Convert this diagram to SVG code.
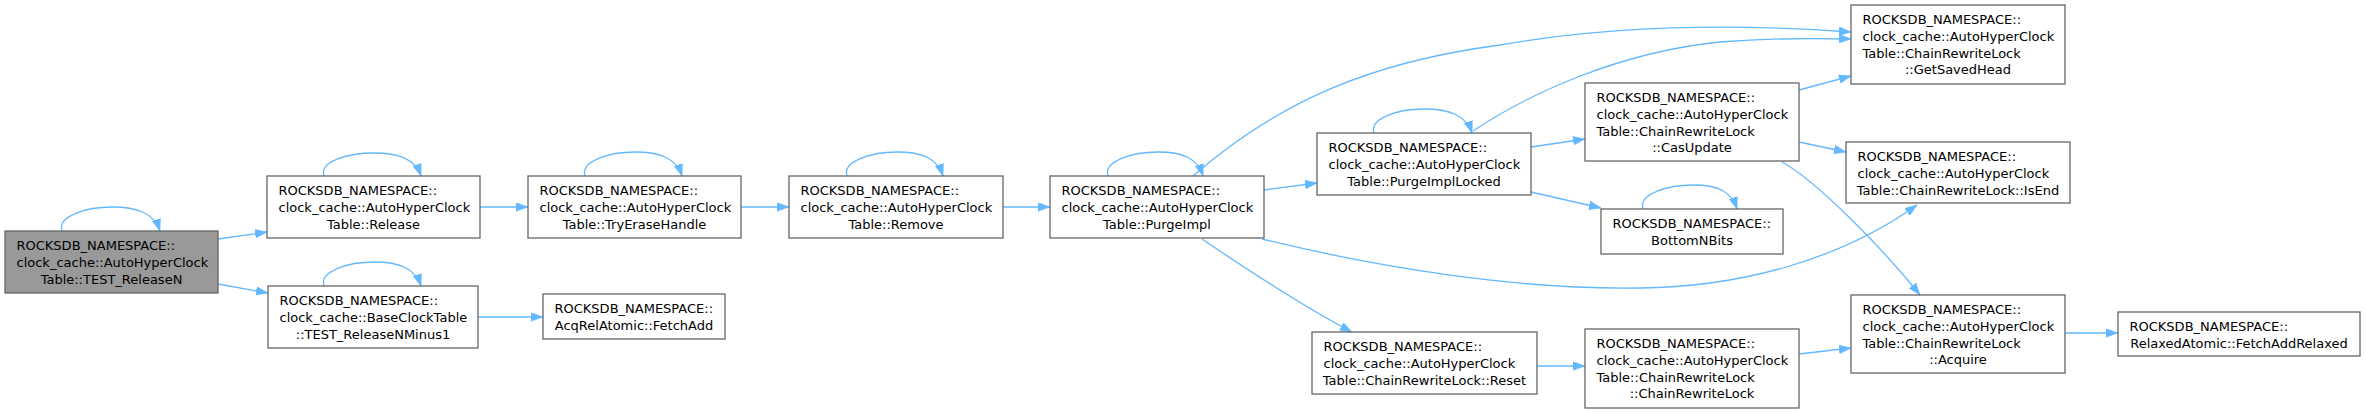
<svg xmlns="http://www.w3.org/2000/svg" width="2365" height="413" viewBox="0 0 2365 413">
<defs>
<style>
.node rect{fill:#ffffff;stroke:#666666;stroke-width:1.3}
.node.root rect{fill:#999999}
.node text{font-family:"DejaVu Sans","Liberation Sans",sans-serif;font-size:13px;fill:#000000}
.node text.c{text-anchor:middle}
#edges path{fill:none;stroke:#63b8ff;stroke-width:1.3;marker-end:url(#arr)}
</style>
<marker id="arr" markerUnits="userSpaceOnUse" markerWidth="12" markerHeight="9" viewBox="0 0 11 8" refX="11" refY="4" orient="auto">
<path d="M0,0 L11,4 L0,8 z" fill="#63b8ff" stroke="#63b8ff" stroke-width="0.5"/>
</marker>
</defs>
<rect width="2365" height="413" fill="#ffffff"/>
<g id="edges">
<path d="M62,231 C57,216 87,207 112,207 C137,207 154,213 160,231"/>
<path d="M324,176 C319,161 349,153 374,153 C399,153 415,159 421,176"/>
<path d="M324,286 C319,271 349,262 374,262 C399,262 415,268 421,286"/>
<path d="M585,176 C580,161 610,152 635,152 C660,152 676,158 682,176"/>
<path d="M847,176 C842,161 872,152 897,152 C922,152 937,158 943,176"/>
<path d="M1108,176 C1103,161 1133,152 1158,152 C1183,152 1197,158 1203,176"/>
<path d="M1374,133 C1369,118 1399,109 1424,109 C1449,109 1466,115 1472,133"/>
<path d="M1643,209 C1638,194 1668,185 1693,185 C1718,185 1731,191 1737,209"/>
<path d="M218,239 L267,232"/>
<path d="M218,284 L268,293"/>
<path d="M480,207 L528,207"/>
<path d="M478,317 L543,317"/>
<path d="M741,207 L789,207"/>
<path d="M1003,207 L1050,207"/>
<path d="M1264,190 L1317,183"/>
<path d="M1193,176 C1278,102 1370,62 1500,45 C1620,24 1740,24 1851,32"/>
<path d="M1262,239 C1380,268 1520,290 1640,288 C1740,287 1840,260 1917,205"/>
<path d="M1202,239 C1230,258 1300,305 1352,332"/>
<path d="M1531,147 L1585,139"/>
<path d="M1531,192 L1601,208"/>
<path d="M1473,131 C1530,93 1620,52 1720,42 C1770,38 1810,38 1851,39"/>
<path d="M1799,90 L1851,76"/>
<path d="M1799,142 L1846,152"/>
<path d="M1782,162 C1815,180 1880,245 1920,295"/>
<path d="M1537,366 L1585,366"/>
<path d="M1799,354 L1851,348"/>
<path d="M2065,333 L2118,333"/>
</g>
<g id="n1" class="node root">
<rect x="5" y="231" width="213" height="62"/>
<text x="16.5" y="250">ROCKSDB_NAMESPACE::</text>
<text x="16.5" y="266.8">clock_cache::AutoHyperClock</text>
<text class="c" x="111.5" y="283.6">Table::TEST_ReleaseN</text>
</g>
<g id="n2" class="node">
<rect x="267" y="176" width="213" height="62"/>
<text x="278.5" y="195">ROCKSDB_NAMESPACE::</text>
<text x="278.5" y="211.8">clock_cache::AutoHyperClock</text>
<text class="c" x="373.5" y="228.6">Table::Release</text>
</g>
<g id="n3" class="node">
<rect x="268" y="286" width="210" height="62"/>
<text x="279.5" y="305">ROCKSDB_NAMESPACE::</text>
<text x="279.5" y="321.8">clock_cache::BaseClockTable</text>
<text class="c" x="373" y="338.6">::TEST_ReleaseNMinus1</text>
</g>
<g id="n4" class="node">
<rect x="528" y="176" width="213" height="62"/>
<text x="539.5" y="195">ROCKSDB_NAMESPACE::</text>
<text x="539.5" y="211.8">clock_cache::AutoHyperClock</text>
<text class="c" x="634.5" y="228.6">Table::TryEraseHandle</text>
</g>
<g id="n5" class="node">
<rect x="789" y="176" width="214" height="62"/>
<text x="800.5" y="195">ROCKSDB_NAMESPACE::</text>
<text x="800.5" y="211.8">clock_cache::AutoHyperClock</text>
<text class="c" x="896" y="228.6">Table::Remove</text>
</g>
<g id="n6" class="node">
<rect x="543" y="294" width="182" height="45"/>
<text x="554.5" y="313">ROCKSDB_NAMESPACE::</text>
<text class="c" x="634" y="329.8">AcqRelAtomic::FetchAdd</text>
</g>
<g id="n7" class="node">
<rect x="1050" y="176" width="214" height="62"/>
<text x="1061.5" y="195">ROCKSDB_NAMESPACE::</text>
<text x="1061.5" y="211.8">clock_cache::AutoHyperClock</text>
<text class="c" x="1157" y="228.6">Table::PurgeImpl</text>
</g>
<g id="n8" class="node">
<rect x="1317" y="133" width="214" height="62"/>
<text x="1328.5" y="152">ROCKSDB_NAMESPACE::</text>
<text x="1328.5" y="168.8">clock_cache::AutoHyperClock</text>
<text class="c" x="1424" y="185.6">Table::PurgeImplLocked</text>
</g>
<g id="n9" class="node">
<rect x="1312" y="332" width="225" height="62"/>
<text x="1323.5" y="351">ROCKSDB_NAMESPACE::</text>
<text x="1323.5" y="367.8">clock_cache::AutoHyperClock</text>
<text class="c" x="1424.5" y="384.6">Table::ChainRewriteLock::Reset</text>
</g>
<g id="n10" class="node">
<rect x="1585" y="83" width="214" height="78"/>
<text x="1596.5" y="102">ROCKSDB_NAMESPACE::</text>
<text x="1596.5" y="118.8">clock_cache::AutoHyperClock</text>
<text x="1596.5" y="135.6">Table::ChainRewriteLock</text>
<text class="c" x="1692" y="152.4">::CasUpdate</text>
</g>
<g id="n11" class="node">
<rect x="1601" y="209" width="182" height="45"/>
<text x="1612.5" y="228">ROCKSDB_NAMESPACE::</text>
<text class="c" x="1692" y="244.8">BottomNBits</text>
</g>
<g id="n12" class="node">
<rect x="1585" y="329" width="214" height="79"/>
<text x="1596.5" y="348">ROCKSDB_NAMESPACE::</text>
<text x="1596.5" y="364.8">clock_cache::AutoHyperClock</text>
<text x="1596.5" y="381.6">Table::ChainRewriteLock</text>
<text class="c" x="1692" y="398.4">::ChainRewriteLock</text>
</g>
<g id="n13" class="node">
<rect x="1851" y="5" width="214" height="79"/>
<text x="1862.5" y="24">ROCKSDB_NAMESPACE::</text>
<text x="1862.5" y="40.8">clock_cache::AutoHyperClock</text>
<text x="1862.5" y="57.6">Table::ChainRewriteLock</text>
<text class="c" x="1958" y="74.4">::GetSavedHead</text>
</g>
<g id="n14" class="node">
<rect x="1846" y="142" width="224" height="61"/>
<text x="1857.5" y="161">ROCKSDB_NAMESPACE::</text>
<text x="1857.5" y="177.8">clock_cache::AutoHyperClock</text>
<text class="c" x="1958" y="194.6">Table::ChainRewriteLock::IsEnd</text>
</g>
<g id="n15" class="node">
<rect x="1851" y="295" width="214" height="78"/>
<text x="1862.5" y="314">ROCKSDB_NAMESPACE::</text>
<text x="1862.5" y="330.8">clock_cache::AutoHyperClock</text>
<text x="1862.5" y="347.6">Table::ChainRewriteLock</text>
<text class="c" x="1958" y="364.4">::Acquire</text>
</g>
<g id="n16" class="node">
<rect x="2118" y="312" width="242" height="44"/>
<text x="2129.5" y="331">ROCKSDB_NAMESPACE::</text>
<text class="c" x="2239" y="347.8">RelaxedAtomic::FetchAddRelaxed</text>
</g>
</svg>
